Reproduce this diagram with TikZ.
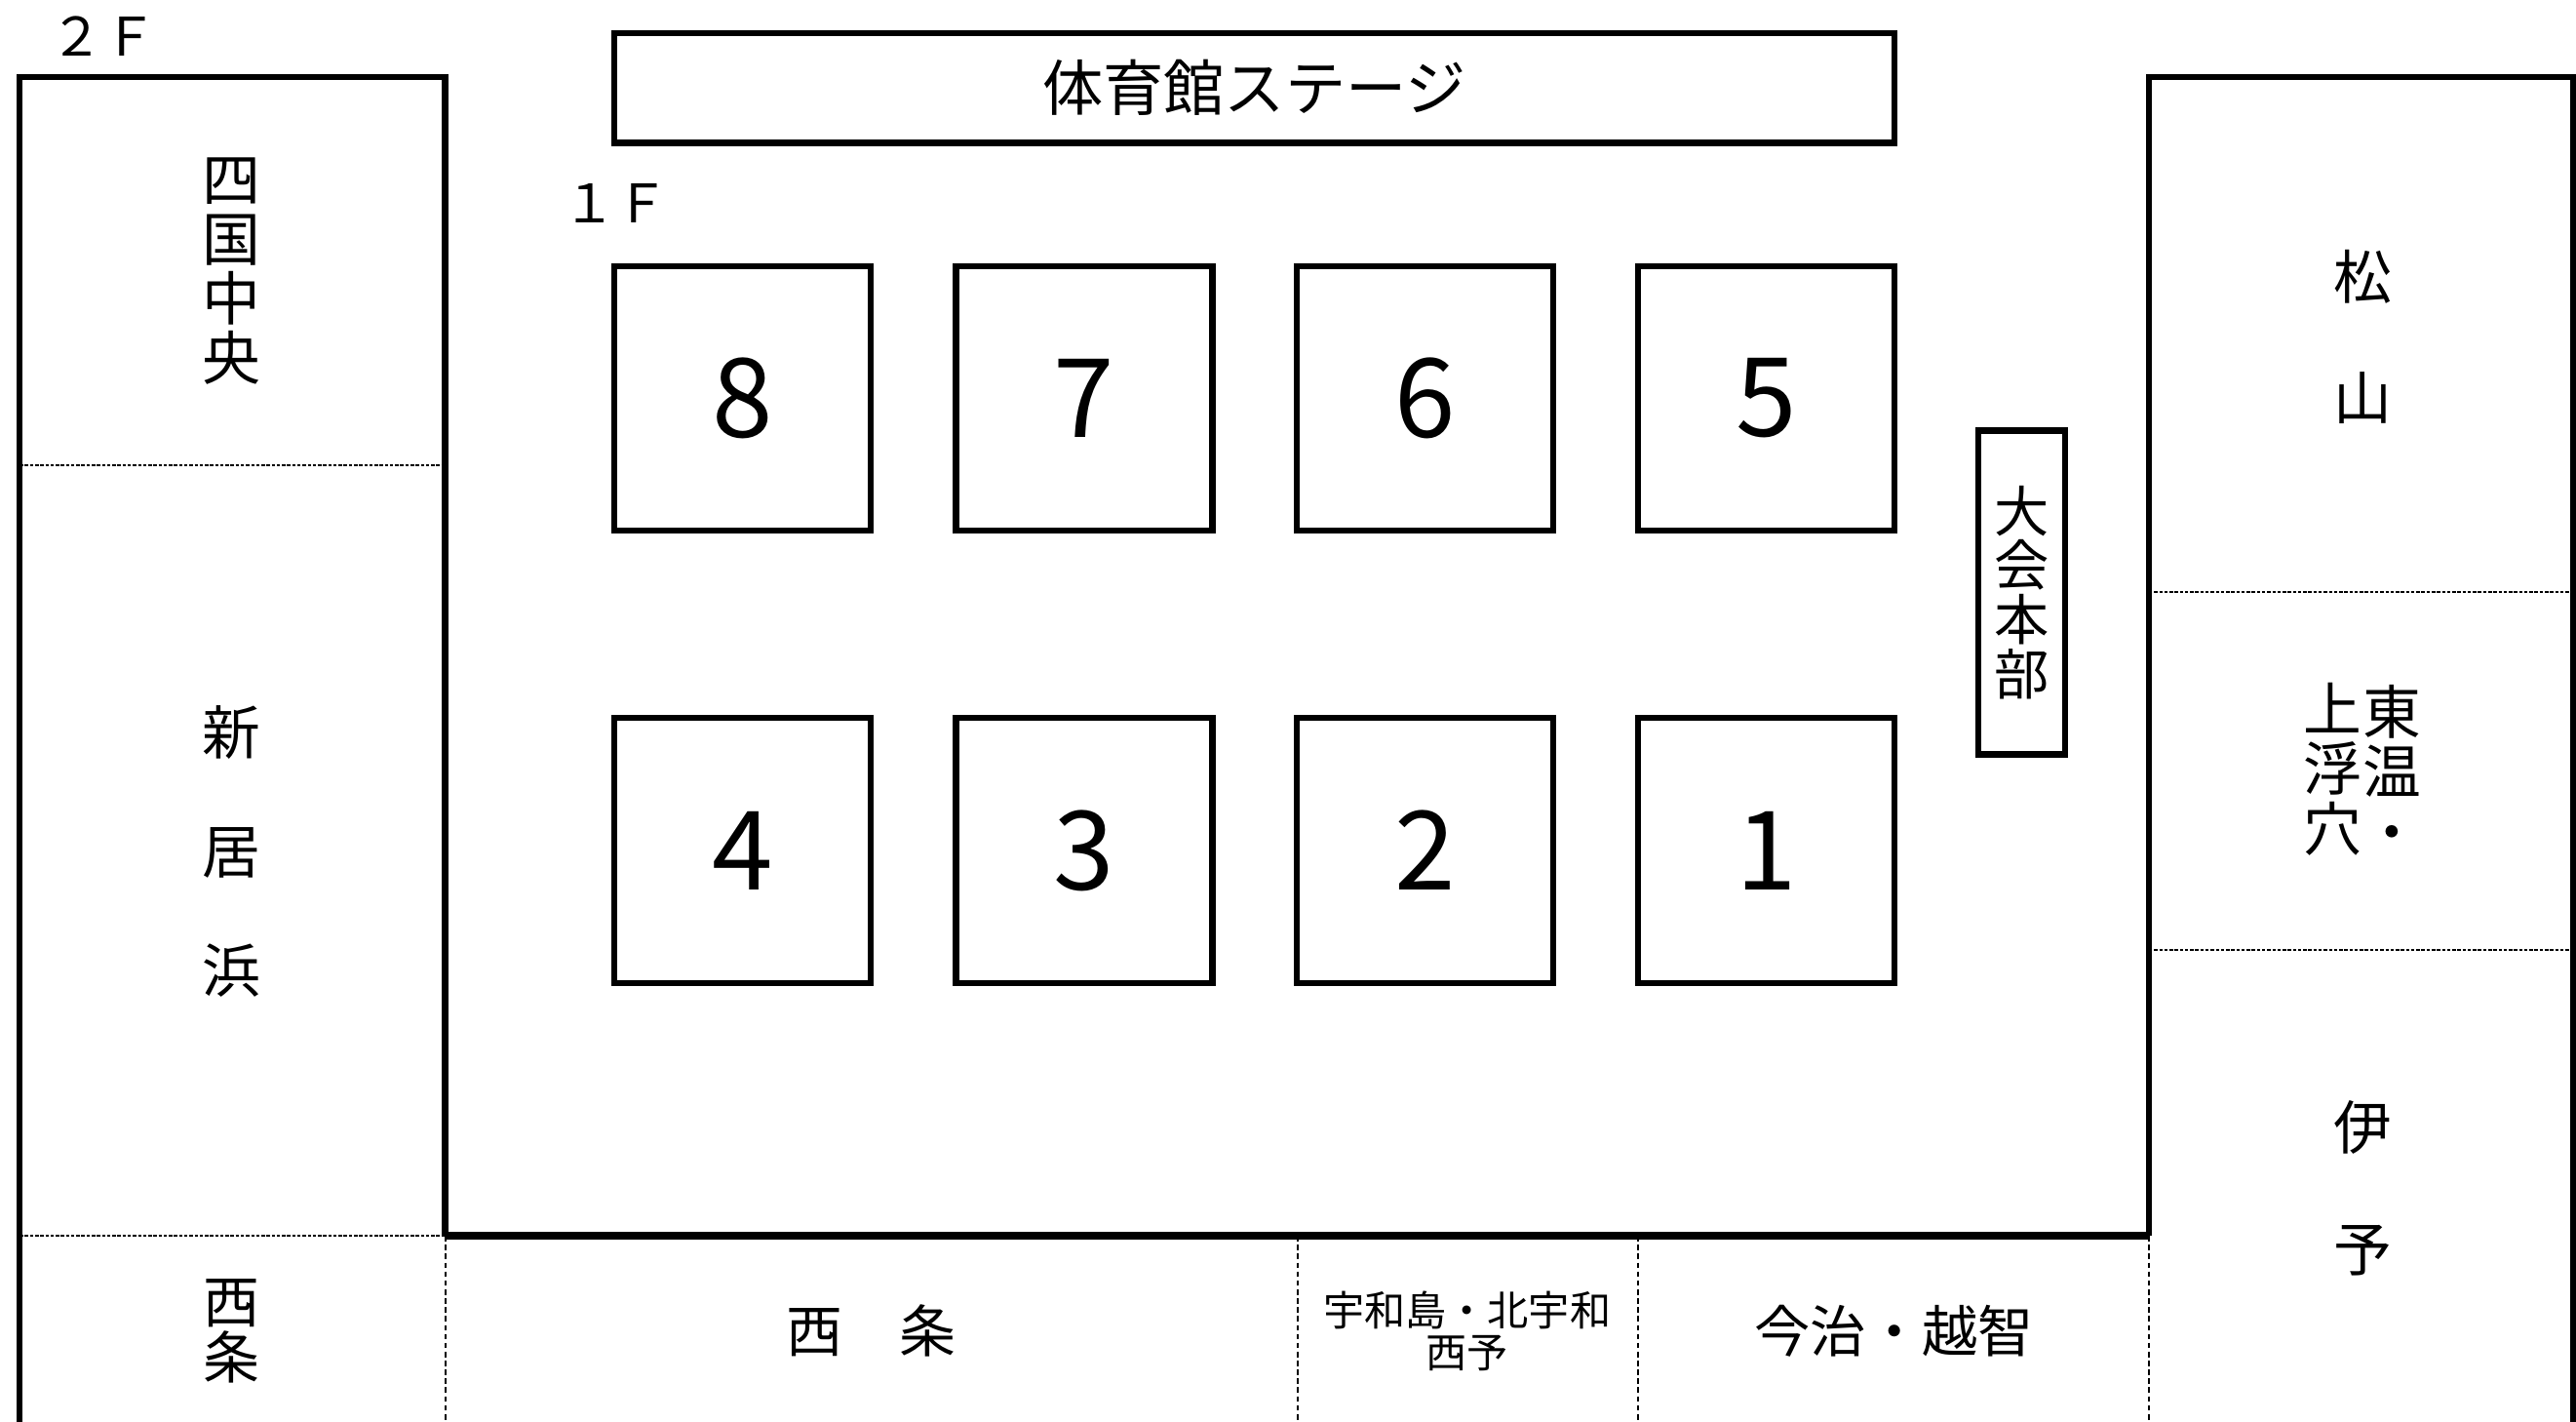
\documentclass[tikz,border=0pt]{standalone}
\usepackage{fontspec}
\setmainfont{Noto Sans CJK JP}
\tikzset{
  wall/.style={line width=1.8pt},
  seam/.style={line width=0.6pt, dash pattern=on 1pt off 0.5pt},
  cut/.style={line width=0.6pt, dash pattern=on 1.6pt off 1pt},
  court/.style={draw, line width=1.8pt, minimum width=2.629cm, minimum height=2.713cm, inner sep=0pt, font=\fontsize{32}{32}\selectfont},
  tate/.style={align=center, inner sep=0pt},
}
\begin{document}
\begin{tikzpicture}[x=0.01685cm, y=-0.01685cm]
		\useasboundingbox (0,0) rectangle (1568,865);
		\draw[wall] (12,865) -- (12,47) -- (271,47) -- (271,752); % left wing
		\draw[wall] (1566,865) -- (1566,47) -- (1308,47) -- (1308,752); % right wing
		\draw[line width=2.2pt] (271,752) -- (1308,752); % hall floor edge
		\draw[seam] (12,283) -- (271,283); % left split
		\draw[seam] (12,752) -- (271,752);
		\draw[seam] (1308,360) -- (1566,360); % right split
		\draw[seam] (1308,578) -- (1566,578);
		\draw[cut] (271,752) -- (271,865); % bottom strip
		\draw[cut] (790,752) -- (790,865);
		\draw[cut] (997,752) -- (997,865);
		\draw[cut] (1308,752) -- (1308,865);
		\node[draw, line width=1.8pt, minimum width=13.126cm, minimum height=1.129cm, font=\fontsize{17.7}{17.7}\selectfont] (stage) at (763.5,53.5) {体育館ステージ};
		\node[font=\fontsize{15.5}{15.5}\selectfont] (floor2) at (63,22) {２Ｆ};
		\node[font=\fontsize{15.5}{15.5}\selectfont] (floor1) at (375,124) {１Ｆ};
		\node[court] (c8) at (452,242.5) {8};
		\node[court] (c7) at (660,242.5) {7};
		\node[court] (c6) at (867.5,242.5) {6};
		\node[court] (c5) at (1075,242.5) {5};
		\node[court] (c4) at (452,517.5) {4};
		\node[court] (c3) at (660,517.5) {3};
		\node[court] (c2) at (867.5,517.5) {2};
		\node[court] (c1) at (1075,517.5) {1};
		\node[draw, line width=1.8pt, minimum width=0.893cm, minimum height=3.319cm, align=center, font=\fontsize{16}{15.8}\selectfont] (honbu) at (1230.5,360.5) {大\\会\\本\\部};
		\node[tate, font=\fontsize{17}{17.3}\selectfont] (shikoku) at (141,165) {四\\国\\中\\央};
		\node[tate, font=\fontsize{17}{34.8}\selectfont] (niihama) at (141,518) {新\\居\\浜};
		\node[tate, font=\fontsize{16.5}{16.3}\selectfont] (saijoL) at (141,810) {西\\条};
		\node[tate, font=\fontsize{17}{35.5}\selectfont] (matsuyama) at (1438,205) {松\\山};
		\node[tate, font=\fontsize{17}{17.5}\selectfont] (toon) at (1456,468) {東\\温\\・};
		\node[tate, font=\fontsize{17}{17.5}\selectfont] (kamiuke) at (1420,468) {上\\浮\\穴};
		\node[tate, font=\fontsize{17}{35.5}\selectfont] (iyo) at (1438,723) {伊\\予};
		\node[font=\fontsize{16.5}{16.5}\selectfont] (saijo) at (530,810) {西　条};
		\node[align=center, font=\fontsize{12}{12.5}\selectfont] (uwajima) at (893,810) {宇和島・北宇和\\西予};
		\node[font=\fontsize{16.3}{16.3}\selectfont] (imabari) at (1153,810) {今治・越智};
\end{tikzpicture}
\end{document}
